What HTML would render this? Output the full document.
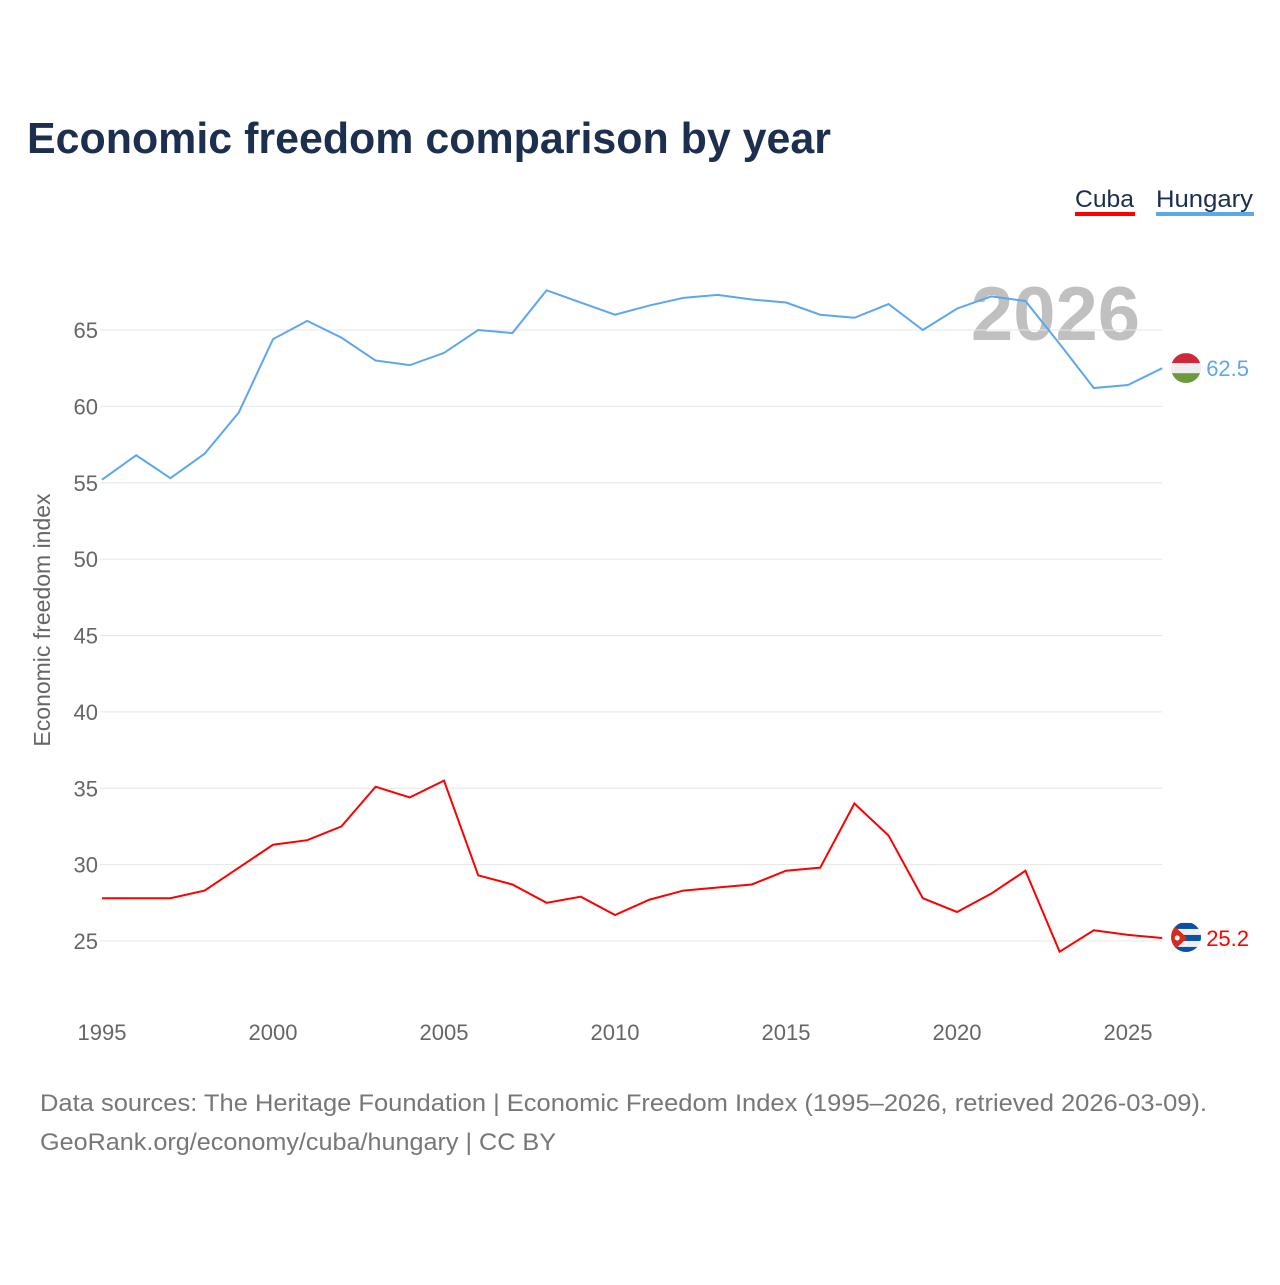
<!DOCTYPE html>
<html><head><meta charset="utf-8">
<style>
body{margin:0;background:#fff;font-family:"Liberation Sans",sans-serif;}
svg text{font-family:"Liberation Sans",sans-serif;}
</style></head>
<body>
<svg id="chart" width="1280" height="1280" xmlns="http://www.w3.org/2000/svg">
<defs>
<clipPath id="clipH"><circle cx="1186" cy="368" r="15"/></clipPath>
<clipPath id="clipC"><circle cx="1186" cy="937" r="15"/></clipPath>
</defs>
<text x="27" y="153" font-size="44" font-weight="bold" fill="#1c2f4f" textLength="804" lengthAdjust="spacingAndGlyphs">Economic freedom comparison by year</text>
<g>
<text x="1075" y="207" font-size="24" fill="#1c2f4f" textLength="59" lengthAdjust="spacingAndGlyphs">Cuba</text>
<rect x="1075" y="212" width="60" height="4" fill="#ff0000"/>
<text x="1156" y="207" font-size="24" fill="#1c2f4f" textLength="97" lengthAdjust="spacingAndGlyphs">Hungary</text>
<rect x="1156" y="212" width="98" height="4" fill="#5ca7ee"/>
</g>
<text x="1140" y="340" font-size="76" font-weight="bold" fill="#c0c0c0" text-anchor="end">2026</text>
<g id="grid"></g>
<g id="ylabels"></g>
<g id="xlabels"></g>
<text transform="translate(50,620) rotate(-90)" font-size="23" fill="#666" text-anchor="middle">Economic freedom index</text>
<g id="series"></g>
<text x="40" y="1111" font-size="24" fill="#777" textLength="1167" lengthAdjust="spacingAndGlyphs">Data sources: The Heritage Foundation | Economic Freedom Index (1995–2026, retrieved 2026-03-09).</text>
<text x="40" y="1150" font-size="24" fill="#777" textLength="516" lengthAdjust="spacingAndGlyphs">GeoRank.org/economy/cuba/hungary | CC BY</text>
</svg>
<script>
const years=[1995,1996,1997,1998,1999,2000,2001,2002,2003,2004,2005,2006,2007,2008,2009,2010,2011,2012,2013,2014,2015,2016,2017,2018,2019,2020,2021,2022,2023,2024,2025,2026];
const hungary=[55.2,56.8,55.3,56.9,59.6,64.4,65.6,64.5,63.0,62.7,63.5,65.0,64.8,67.6,66.8,66.0,66.6,67.1,67.3,67.0,66.8,66.0,65.8,66.7,65.0,66.4,67.2,66.9,64.1,61.2,61.4,62.5];
const cuba=[27.8,27.8,27.8,28.3,29.8,31.3,31.6,32.5,35.1,34.4,35.5,29.3,28.7,27.5,27.9,26.7,27.7,28.3,28.5,28.7,29.6,29.8,34.0,31.9,27.8,26.9,28.1,29.6,24.3,25.7,25.4,25.2];
const yTicks=[25,30,35,40,45,50,55,60,65];
const xTicks=[1995,2000,2005,2010,2015,2020,2025];
const NS="http://www.w3.org/2000/svg";
const x=v=>102+(v-1995)*34.2;
const y=v=>330+(65-v)*15.275;
function mk(tag,attrs,parent){const e=document.createElementNS(NS,tag);for(const k in attrs)e.setAttribute(k,attrs[k]);parent.appendChild(e);return e;}
const grid=document.getElementById('grid'),yl=document.getElementById('ylabels'),xl=document.getElementById('xlabels'),ser=document.getElementById('series');
yTicks.forEach(t=>{
 const l=mk('line',{x1:100,x2:1162,y1:y(t),y2:y(t),stroke:'#e6e6e6','stroke-width':1},grid);
 
 
 const tx=mk('text',{x:98,y:y(t)+8,'font-size':22,fill:'#666','text-anchor':'end'},yl);
 tx.textContent=t;
 
 
});
xTicks.forEach(t=>{
 const tx=mk('text',{x:x(t),y:1040,'font-size':22,fill:'#666','text-anchor':'middle'},xl);
 tx.textContent=t;
 
 
});
function flag(name,cx,cy){
 const g=mk('g',{},ser);
 
 
 if(name==='hungary'){
  g.setAttribute('clip-path','url(#clipH)');
  mk('rect',{x:cx-15,y:cy-15,width:30,height:10,fill:'#ce2939'},g);
  mk('rect',{x:cx-15,y:cy-5,width:30,height:10,fill:'#eeeeee'},g);
  mk('rect',{x:cx-15,y:cy+5,width:30,height:10,fill:'#6a9a3a'},g);
 }else{
  g.setAttribute('clip-path','url(#clipC)');
  mk('rect',{x:cx-15,y:cy-15,width:30,height:30,fill:'#eeeeee'},g);
  for(let i=0;i<3;i++)mk('rect',{x:cx-15,y:cy-15+i*12,width:30,height:6,fill:'#0a4fa8'},g);
  mk('polygon',{points:(cx-15)+','+(cy-15)+' '+(cx+1)+','+cy+' '+(cx-15)+','+(cy+15),fill:'#d52b1e'},g);
  mk('circle',{cx:cx-9,cy:cy,r:2.5,fill:'#fff'},g);
 }
}
function series(vals,color,name,label){
 const p=mk('polyline',{points:vals.map((v,i)=>x(years[i])+','+y(v)).join(' '),fill:'none',stroke:color,'stroke-width':2},ser);
 
 
 const last=vals[vals.length-1],lx=x(years[years.length-1]),ly=y(last);
 flag(name,lx+24,ly);
 const t=mk('text',{x:lx+44,y:ly+8,'font-size':22,fill:color},ser);
 t.textContent=label;
 
 
}
series(hungary,'#5ca7ee','hungary',hungary[hungary.length-1].toFixed(1));
series(cuba,'#ff0000','cuba',cuba[cuba.length-1].toFixed(1));
</script>
</body></html>
